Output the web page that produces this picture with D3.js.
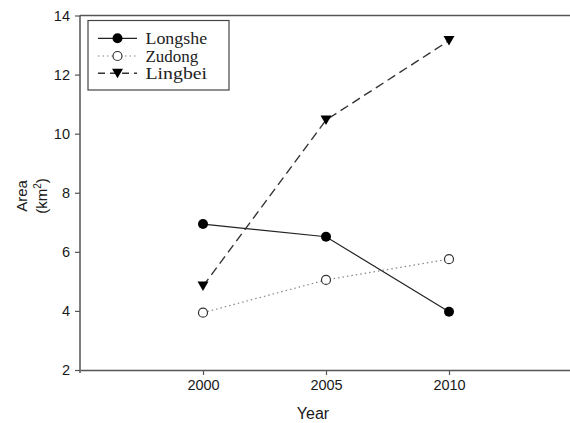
<!DOCTYPE html>
<html><head><meta charset="utf-8">
<script src="https://cdn.jsdelivr.net/npm/d3@7"></script>
<style>body{margin:0;background:#fff}svg{display:block}</style>
</head><body>
<script>
const years = [2000, 2005, 2010];
const longshe = [6.94, 6.51, 3.97];
const zudong = [3.94, 5.05, 5.75];
const lingbei = [4.84, 10.46, 13.15];
const xTicks = [2000, 2005, 2010];
const yTicks = [2, 4, 6, 8, 10, 12, 14];
const seriesNames = ["Longshe", "Zudong", "Lingbei"];

const W = 570, H = 423;
const svg = d3.select("body").append("svg").attr("width", W).attr("height", H);
const x = d3.scaleLinear().domain([1995, 2015]).range([80, 572]);
const y = d3.scaleLinear().domain([2, 14]).range([370, 15.5]);
const axisColor = "#555";

// top frame line
svg.append("line").attr("x1", x(1995)).attr("x2", x(2015)).attr("y1", y(14)).attr("y2", y(14))
  .attr("stroke", axisColor).attr("stroke-width", 1.5);

const xAxis = svg.append("g").attr("transform", `translate(0,${y(2)})`)
  .call(d3.axisBottom(x).tickValues(xTicks).tickFormat(d3.format("d")).tickSize(5).tickPadding(5).tickSizeOuter(0));
const yAxis = svg.append("g").attr("transform", `translate(${x(1995)},0)`)
  .call(d3.axisLeft(y).tickValues(yTicks).tickSize(5).tickPadding(5).tickSizeOuter(0));
[xAxis, yAxis].forEach(g => {
  g.select(".domain").attr("stroke", axisColor).attr("stroke-width", 1.5);
  g.selectAll(".tick line").attr("stroke", axisColor).attr("stroke-width", 1.2);
  g.selectAll("text").attr("font-family", "Liberation Sans, Arial, sans-serif").attr("font-size", 14.5).attr("fill", "#1a1a1a");
});
yAxis.select(".domain").attr("d", `M0,${y(14)}V${y(2)+3}`);

// axis titles
svg.append("text").attr("x", 313).attr("y", 419).attr("text-anchor", "middle")
  .attr("font-family", "Liberation Sans, Arial, sans-serif").attr("font-size", 16).attr("fill", "#1a1a1a").text("Year");
const yt = svg.append("g").attr("transform", "translate(27,196) rotate(-90)");
yt.append("text").attr("x", 0).attr("y", 0).attr("text-anchor", "middle")
  .attr("font-family", "Liberation Sans, Arial, sans-serif").attr("font-size", 15).attr("fill", "#1a1a1a").text("Area");
const t2 = yt.append("text").attr("x", 0).attr("y", 20).attr("text-anchor", "middle")
  .attr("font-family", "Liberation Sans, Arial, sans-serif").attr("font-size", 15).attr("fill", "#1a1a1a");
t2.append("tspan").text("(km");
t2.append("tspan").attr("dy", -6).attr("font-size", 10).text("2");
t2.append("tspan").attr("dy", 6).text(")");

const line = d3.line().x((d, i) => x(years[i])).y(d => y(d));
const styles = [
  {data: longshe, dash: null, color: "#222", w: 1.2},
  {data: zudong, dash: "1.5,3", color: "#888", w: 1.2},
  {data: lingbei, dash: "9,5", color: "#333", w: 1.4}
];
styles.forEach(s => {
  svg.append("path").datum(s.data).attr("d", line).attr("fill", "none")
    .attr("stroke", s.color).attr("stroke-width", s.w).attr("stroke-dasharray", s.dash);
});

function marker(g, type, cx, cy) {
  if (type === 0) g.append("circle").attr("cx", cx).attr("cy", cy).attr("r", 5).attr("fill", "#000");
  else if (type === 1) g.append("circle").attr("cx", cx).attr("cy", cy).attr("r", 4.5).attr("fill", "#fff").attr("stroke", "#333").attr("stroke-width", 1.2);
  else g.append("path").attr("d", `M${cx-5.5},${cy-4.5}L${cx+5.5},${cy-4.5}L${cx},${cy+5}Z`).attr("fill", "#000");
}
const mg = svg.append("g");
styles.forEach((s, k) => s.data.forEach((v, i) => marker(mg, k, x(years[i]), y(v))));

// legend
const lg = svg.append("g");
lg.append("rect").attr("x", 88).attr("y", 20.5).attr("width", 141).attr("height", 69.5)
  .attr("fill", "#fff").attr("stroke", "#444").attr("stroke-width", 1.2);
const rowY = [38.3, 56, 73.3];
styles.forEach((s, k) => {
  lg.append("line").attr("x1", 98).attr("x2", 137).attr("y1", rowY[k]).attr("y2", rowY[k])
    .attr("stroke", s.color).attr("stroke-width", s.w).attr("stroke-dasharray", k === 2 ? "7,5" : s.dash);
  marker(lg, k, 117.5, rowY[k]);
  lg.append("text").attr("x", 145.5).attr("y", rowY[k] + 5.5)
    .attr("font-family", "Liberation Serif, serif").attr("font-size", 17).attr("fill", "#222")
    .attr("textLength", seriesNames[k].length * 8.8).attr("lengthAdjust", "spacingAndGlyphs")
    .text(seriesNames[k]);
});
</script>
</body></html>
